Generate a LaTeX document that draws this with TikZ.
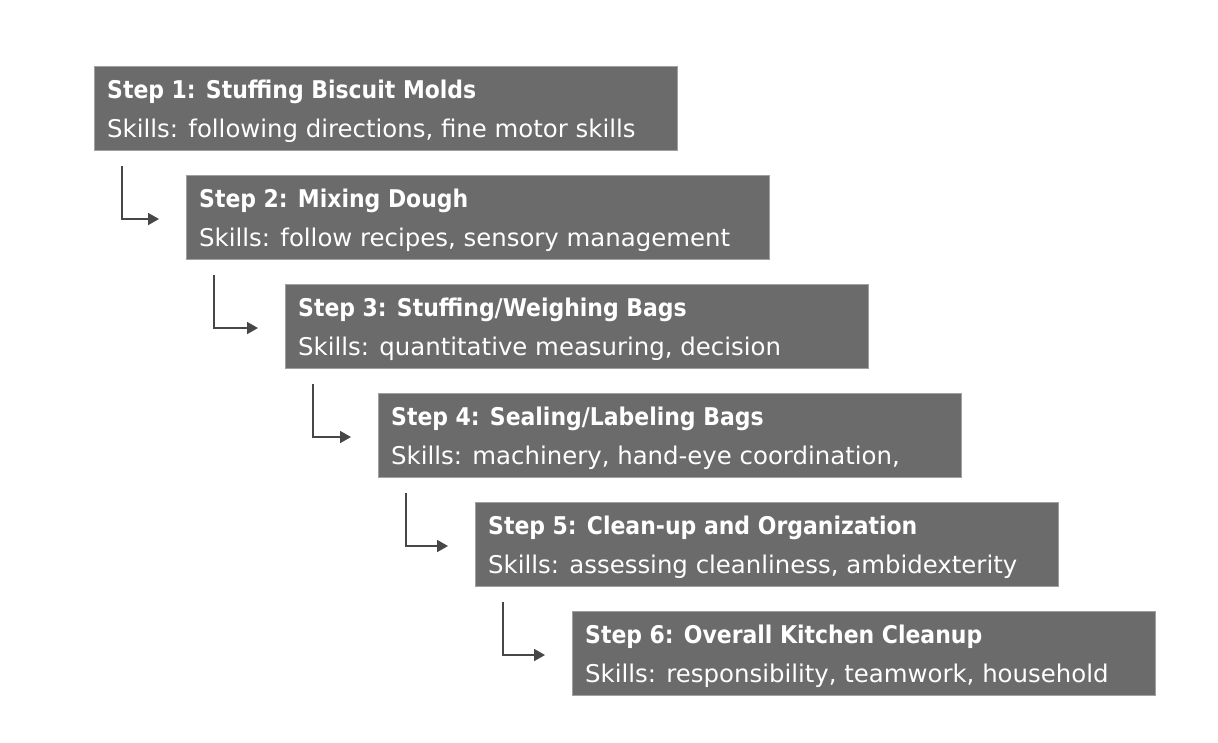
\documentclass[tikz,border=0pt]{standalone}
\usepackage{fontspec}
\setmainfont{DejaVu Sans Condensed}
\newfontfamily\skillfont{DejaVu Sans}
\usetikzlibrary{arrows.meta,calc}
\definecolor{boxfill}{HTML}{6B6B6B}
\definecolor{boxedge}{HTML}{A0A0A0}
\definecolor{arrowcol}{HTML}{474747}
\tikzset{
  stepbox/.style={draw=boxedge, line width=0.8pt, fill=boxfill, minimum width=583pt, minimum height=84pt, inner sep=0pt, anchor=north west},
  titletext/.style={anchor=base west, inner sep=0pt, text=white, font=\fontsize{24.4}{28}\selectfont\bfseries},
  skilltext/.style={anchor=base west, inner sep=0pt, text=white, font=\skillfont\fontsize{24.4}{28}\selectfont},
  flow/.style={draw=arrowcol, line width=1.8pt, -{Triangle[length=11pt,width=12pt]}}
}
\begin{document}
\begin{tikzpicture}[x=1pt,y=-1pt]
\useasboundingbox (0,0) rectangle (1218,742);
\fill[white] (0,0) rectangle (1218,742);
\node[stepbox] (b1) at (94,66) {};
\node[stepbox] (b2) at (186,175) {};
\node[stepbox] (b3) at (285,284) {};
\node[stepbox] (b4) at (378,393) {};
\node[stepbox] (b5) at (475,502) {};
\node[stepbox] (b6) at (572,611) {};
\foreach \b/\t/\s in {b1/{Step 1: Stuffing Biscuit Molds}/{Skills: following directions, fine motor skills},
  b2/{Step 2: Mixing Dough}/{Skills: follow recipes, sensory management},
  b3/{Step 3: Stuffing/Weighing Bags}/{Skills: quantitative measuring, decision},
  b4/{Step 4: Sealing/Labeling Bags}/{Skills: machinery, hand-eye coordination,},
  b5/{Step 5: Clean-up and Organization}/{Skills: assessing cleanliness, ambidexterity},
  b6/{Step 6: Overall Kitchen Cleanup}/{Skills: responsibility, teamwork, household}}{
  \node[titletext] (\b t) at ($(\b.north west)+(13,32)$) {\t};
  \node[skilltext] (\b s) at ($(\b.north west)+(13,71)$) {\s};
}
\foreach \a/\b in {b1/b2,b2/b3,b3/b4,b4/b5,b5/b6}{
  \coordinate (\a start) at ($(\a.south west)+(28,15)$);
  \coordinate (\a end) at ($(\b.north west)+(-27,44)$);
  \draw[flow] (\a start) |- (\a end);
}
\end{tikzpicture}
\end{document}
